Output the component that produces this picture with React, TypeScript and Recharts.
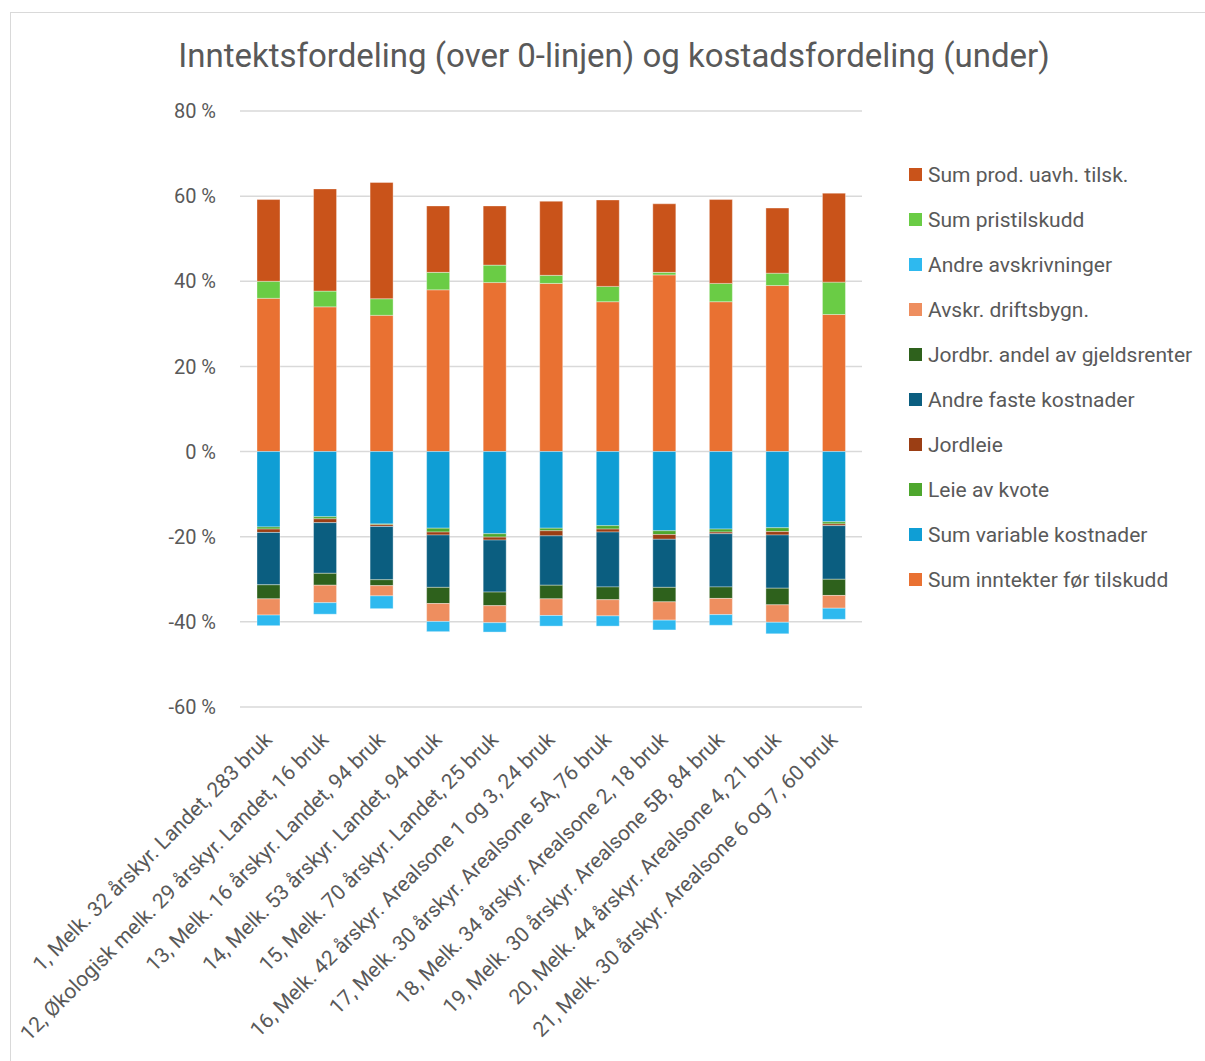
import React from "react";
import { BarChart, Bar, XAxis, YAxis, CartesianGrid, Legend } from "recharts";

const categories = [
  "1, Melk. 32 årskyr. Landet, 283 bruk",
  "12, Økologisk melk. 29 årskyr. Landet, 16 bruk",
  "13, Melk. 16 årskyr. Landet, 94 bruk",
  "14, Melk. 53 årskyr. Landet, 94 bruk",
  "15, Melk. 70 årskyr. Landet, 25 bruk",
  "16, Melk. 42 årskyr. Arealsone 1 og 3, 24 bruk",
  "17, Melk. 30 årskyr. Arealsone 5A, 76 bruk",
  "18, Melk. 34 årskyr. Arealsone 2, 18 bruk",
  "19, Melk. 30 årskyr. Arealsone 5B, 84 bruk",
  "20, Melk. 44 årskyr. Arealsone 4, 21 bruk",
  "21, Melk. 30 årskyr. Arealsone 6 og 7, 60 bruk",
];

// income (above zero)
const sumInntekter = [36.0, 34.0, 32.0, 38.0, 39.7, 39.5, 35.2, 41.5, 35.2, 39.0, 32.2];
const sumPristilskudd = [4.0, 3.7, 3.9, 4.1, 4.1, 1.9, 3.6, 0.6, 4.3, 2.9, 7.6];
const sumProdUavh = [19.2, 24.0, 27.3, 15.6, 13.9, 17.4, 20.3, 16.1, 19.7, 15.3, 20.9];

// costs (below zero)
const sumVariable = [-17.7, -15.3, -17.0, -18.0, -19.3, -18.0, -17.4, -18.6, -18.2, -17.9, -16.5];
const leieKvote = [-0.5, -0.5, -0.2, -0.9, -0.8, -0.6, -0.8, -0.9, -0.7, -0.9, -0.5];
const jordleie = [-0.8, -0.9, -0.4, -0.7, -0.7, -1.2, -0.7, -1.1, -0.4, -0.8, -0.4];
const andreFaste = [-12.3, -11.9, -12.5, -12.3, -12.2, -11.6, -12.9, -11.3, -12.5, -12.5, -12.6];
const gjeldsrenter = [-3.3, -2.8, -1.4, -3.8, -3.2, -3.2, -3.0, -3.4, -2.7, -3.9, -3.8];
const avskrDriftsbygn = [-3.8, -4.1, -2.4, -4.2, -4.0, -3.9, -3.8, -4.3, -3.8, -4.1, -3.0];
const andreAvskr = [-2.5, -2.7, -3.0, -2.4, -2.2, -2.5, -2.4, -2.3, -2.5, -2.7, -2.6];

const yTicks = [-60, -40, -20, 0, 20, 40, 60, 80];

// stacking order (bottom of each stack first)
const series = [
  { key: "inntekter", name: "Sum inntekter før tilskudd", values: sumInntekter, color: "#E97132" },
  { key: "variable", name: "Sum variable kostnader", values: sumVariable, color: "#0F9ED5" },
  { key: "kvote", name: "Leie av kvote", values: leieKvote, color: "#4EA72E" },
  { key: "jordleie", name: "Jordleie", values: jordleie, color: "#9B3E14" },
  { key: "faste", name: "Andre faste kostnader", values: andreFaste, color: "#0B5E80" },
  { key: "gjeld", name: "Jordbr. andel av gjeldsrenter", values: gjeldsrenter, color: "#2E611C" },
  { key: "avskrBygn", name: "Avskr. driftsbygn.", values: avskrDriftsbygn, color: "#EE8E5F" },
  { key: "andreAvskr", name: "Andre avskrivninger", values: andreAvskr, color: "#2EB9EF" },
  { key: "pris", name: "Sum pristilskudd", values: sumPristilskudd, color: "#6ACC45" },
  { key: "uavh", name: "Sum prod. uavh. tilsk.", values: sumProdUavh, color: "#C9531A" },
];

const data = categories.map((name, i) => {
  const row: Record<string, number | string> = { name };
  series.forEach((s) => {
    row[s.key] = s.values[i];
  });
  return row;
});

const FONT = "Roboto, 'Noto Sans', sans-serif";
const TEXT = "#595959";

const CategoryTick = (props: any) => {
  const { x, payload } = props;
  const ax = x + 5;
  const ay = 741;
  return (
    <text
      x={ax}
      y={ay}
      textAnchor="end"
      fontSize={21}
      fontFamily={FONT}
      fill={TEXT}
      transform={`rotate(-45, ${ax}, ${ay})`}
    >
      {payload.value}
    </text>
  );
};

const LegendList = () => (
  <div style={{ fontFamily: FONT }}>
    {[...series].reverse().map((s) => (
      <div
        key={s.key}
        style={{ display: "flex", alignItems: "center", height: 45, color: TEXT, fontSize: 21 }}
      >
        <span
          style={{ width: 13, height: 13, background: s.color, marginRight: 6, display: "inline-block" }}
        />
        <span style={{ whiteSpace: "nowrap" }}>{s.name}</span>
      </div>
    ))}
  </div>
);

export default function App() {
  return (
    <div
      style={{
        position: "absolute",
        left: 0,
        top: 0,
        width: 1205,
        height: 1061,
        overflow: "hidden",
        background: "#fff",
      }}
    >
      <div
        style={{
          position: "absolute",
          left: 10,
          top: 12,
          width: 1300,
          height: 1200,
          border: "1.5px solid #D9D9D9",
        }}
      />
      <div
        style={{
          position: "absolute",
          left: 0,
          top: 36,
          width: 1228,
          textAlign: "center",
          fontFamily: FONT,
          fontSize: 33,
          color: TEXT,
        }}
      >
        Inntektsfordeling (over 0-linjen) og kostadsfordeling (under)
      </div>
      <div style={{ position: "absolute", left: 0, top: 0 }}>
        <BarChart
          width={1205}
          height={1061}
          data={data}
          stackOffset="sign"
          barSize={23}
          margin={{ top: 111, right: 343, left: 180, bottom: 24 }}
        >
          <CartesianGrid vertical={false} stroke="#D9D9D9" strokeWidth={1.5} />
          <XAxis
            dataKey="name"
            interval={0}
            height={330}
            axisLine={false}
            tickLine={false}
            tick={<CategoryTick />}
          />
          <YAxis
            width={60}
            domain={[-60, 80]}
            ticks={yTicks}
            axisLine={false}
            tickLine={false}
            tickMargin={18}
            tickFormatter={(v) => `${v} %`}
            tick={{ fontSize: 20, fill: TEXT, fontFamily: FONT }}
          />
          <Legend
            layout="vertical"
            align="center"
            verticalAlign="middle"
            wrapperStyle={{ left: 909, top: 152, width: 296, height: 460 }}
            content={() => <LegendList />}
          />
          {series.map((s) => (
            <Bar
              key={s.key}
              dataKey={s.key}
              name={s.name}
              stackId="a"
              fill={s.color}
              stroke="rgba(255,255,255,0.35)"
              strokeWidth={1}
              isAnimationActive={false}
            />
          ))}
        </BarChart>
      </div>
    </div>
  );
}
